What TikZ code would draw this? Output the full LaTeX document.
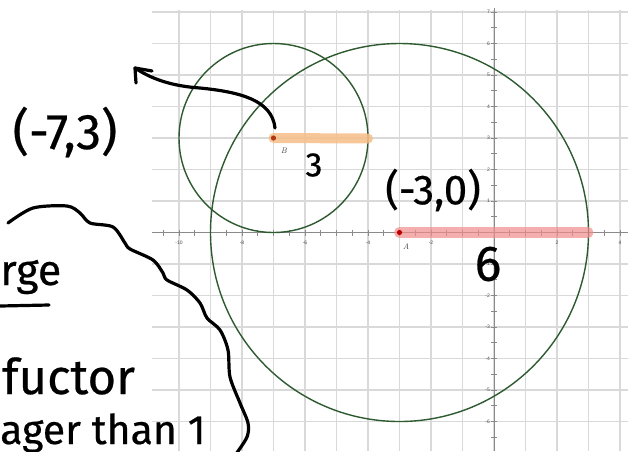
\documentclass[tikz,border=0pt]{standalone}
\usepackage{fontspec}
\newfontfamily\hand[FakeBold=0.5]{Fira Sans}
\newfontfamily\tickfont{Liberation Sans}
\definecolor{gridgray}{HTML}{D9D9D9}
\definecolor{axisgray}{HTML}{8A8A8A}
\definecolor{circgreen}{HTML}{2E5A30}
\definecolor{hlorange}{HTML}{F6BE88}
\definecolor{hlred}{HTML}{F08C8C}
\definecolor{dotred}{HTML}{C00000}
\definecolor{dotbrown}{HTML}{B03A10}
\begin{document}
\begin{tikzpicture}[x=1pt,y=-1pt,
  gridline/.style={draw=gridgray, line width=1.6pt},
  axisline/.style={draw=axisgray, line width=1pt},
  tickmark/.style={draw=axisgray, line width=0.8pt},
  circ/.style={draw=circgreen, line width=1.4pt},
  ink/.style={draw=black, line width=3.2pt, line cap=round, line join=round},
  handtext/.style={text=black, inner sep=0pt},
  ticklbl/.style={font=\tickfont\fontsize{5}{5}\selectfont, text=black!70, inner sep=0pt},
  ptlbl/.style={font=\itshape\fontsize{8}{8}\selectfont, text=black!75, inner sep=0pt}]
\useasboundingbox (0,0) rectangle (628,451);
\fill[white] (0,0) rectangle (628,451);
% grid
\begin{scope}
\clip (152,10) rectangle (628,451);
\foreach \k in {-10,...,4} \draw[gridline] ({494+31.5*\k},10) -- ({494+31.5*\k},451);
\foreach \k in {-7,...,7} \draw[gridline] (152,{232.5-31.5*\k}) -- (628,{232.5-31.5*\k});
\end{scope}
% axes
\draw[axisline] (152,232.5) -- (628,232.5);
\draw[axisline] (494,8) -- (494,451);
\foreach \k in {-21,...,8} \draw[tickmark] ({494+15.75*\k},229.5) -- ({494+15.75*\k},235.5);
\foreach \k in {-14,...,14} \draw[tickmark] (491,{232.5-15.75*\k}) -- (497,{232.5-15.75*\k});
\foreach \k in {-10,-8,-6,-4,-2,2,4} \node[ticklbl] (xl\k) at ({494+31.5*\k},243) {\k};
\foreach \k in {7,6,5,4,3,2,1,-1,-2,-3,-4,-5,-6} \node[ticklbl, anchor=east] (yl\k) at (490,{232.5-31.5*\k}) {\k};
% circles
\coordinate (B) at (273.5,138);
\coordinate (A) at (399.5,232.5);
\draw[circ] (B) circle (94.5);
\draw[circ] (A) circle (189);
% highlights
\coordinate (Bend) at (368,138.5);
\coordinate (Aend) at (588,232.5);
\draw[draw=hlorange, line width=10pt, line cap=round, opacity=0.85] (B) -- (Bend);
\draw[draw=hlred, line width=11pt, line cap=round, opacity=0.7] (A) -- (Aend);
\fill[dotred] (A) circle (2.6);
\fill[dotbrown] (B) circle (2.6);
\node[ptlbl] (lblB) at (284,151) {B};
\node[ptlbl] (lblA) at (406,247) {A};
% handwritten annotations
\node[handtext, font=\hand\fontsize{50}{50}\selectfont] (p73) at (65,132) {(-7,3)};
\node[handtext, font=\hand\fontsize{34}{34}\selectfont] (r3) at (314,165) {3};
\node[handtext, font=\hand\fontsize{42}{42}\selectfont] (p30) at (433,190) {(-3,0)};
\node[handtext, font=\hand\fontsize{50}{50}\selectfont] (r6) at (488,264) {6};
\node[handtext, font=\hand\fontsize{43}{43}\selectfont, anchor=base west] (rge) at (0,285) {rge};
\node[handtext, font=\hand\fontsize{49}{49}\selectfont, anchor=base west] (fac) at (2,394) {fuctor};
\node[handtext, font=\hand\fontsize{41}{41}\selectfont, anchor=base west] (than) at (0,444) {ager than 1};
\coordinate (ul1) at (0,306);
\coordinate (ul2) at (49,305);
\draw[ink] (ul1) -- (ul2);
% arrow from B to label
\coordinate (arrstart) at (275,128);
\coordinate (arrtip) at (135,68);
\coordinate (ah1) at (152,71);
\coordinate (ah2) at (136,83);
\draw[ink] (arrstart) .. controls (272,100) and (240,92) .. (200,88) .. controls (170,86) and (150,78) .. (arrtip);
\draw[ink] (ah1) -- (arrtip) -- (ah2);
% cloud outline
\draw[ink] plot[smooth] coordinates {(8,223) (33,208) (67,206) (80,213) (90,223) (113,227) (125,243) (130,249) (153,260) (163,273) (167,280) (187,290) (200,303) (207,318) (220,330) (228,350) (230,377) (240,403) (248,423) (247,437) (236,454)};
\end{tikzpicture}
\end{document}
